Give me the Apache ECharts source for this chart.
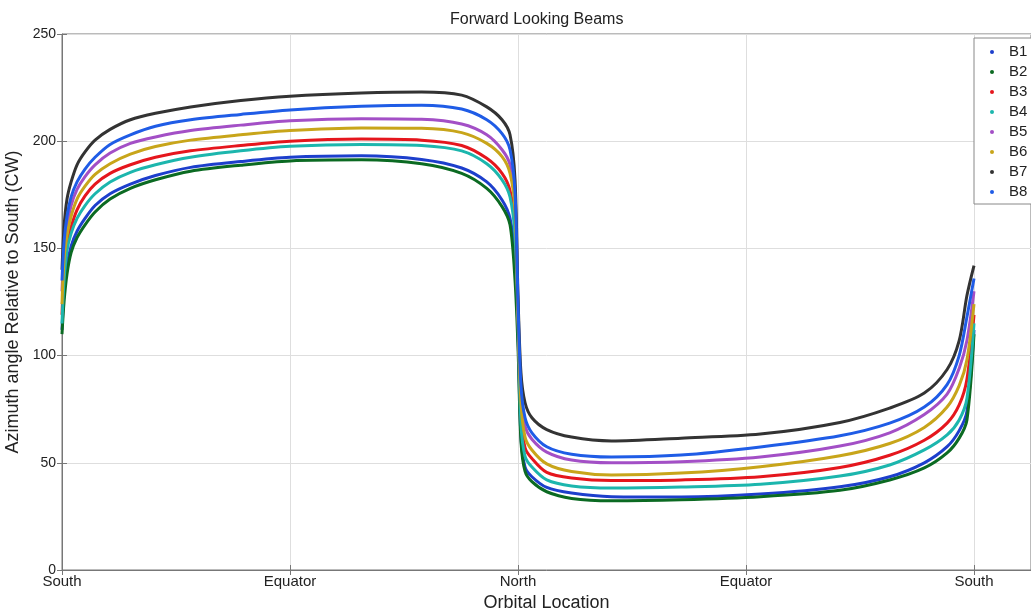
<!DOCTYPE html>
<html>
<head>
<meta charset="utf-8">
<script src="https://cdn.jsdelivr.net/npm/echarts@6/dist/echarts.min.js"></script>
<style>
  html, body { margin: 0; padding: 0; background: #fff; }
  #chart { width: 1031px; height: 614px; }
</style>
</head>
<body>
<div id="chart"></div>
<script>
// orbit position: 0 = South, 1 = Equator, 2 = North, 3 = Equator, 4 = South
const xPos = [0, 0.009, 0.022, 0.040, 0.066, 0.101, 0.145, 0.211, 0.300, 0.410, 0.564, 0.784, 1.0, 1.313, 1.577, 1.753, 1.863, 1.930, 1.965, 1.987,
  2.0, 2.013, 2.031, 2.061, 2.126, 2.235, 2.410, 2.715, 3.063, 3.412, 3.630, 3.782, 3.882, 3.935, 3.969, 4.0];
const xTickLabels = ["South", "Equator", "North", "Equator", "South"];

const b1 = [112, 130, 142, 151, 158, 164, 170, 175.5, 180, 184, 187.8, 190.5, 192.5, 193.2, 191.5, 187.5, 181, 172.6, 164, 145,
  110, 62, 48, 43.5, 38.5, 35.9, 34.2, 34, 35.4, 38.8, 43.5, 50, 57.5, 65, 74, 112];
const b2 = [110, 125, 138, 148, 155, 161, 167, 173, 178, 182, 186, 188.8, 190.8, 191.3, 189.5, 185, 178, 169.5, 161, 135,
  104, 60, 46, 41.2, 36.5, 33.4, 32.3, 32.8, 34.2, 37.2, 42, 47.6, 54.6, 61.5, 70, 110];
const b3 = [119, 140, 152, 160, 168, 174.5, 180, 185, 189, 192.5, 195.5, 198, 200, 201, 200.5, 198, 192, 185, 177, 160,
  118, 72, 57, 52, 45.5, 42.9, 41.7, 42, 43.5, 47.8, 53.5, 60.5, 68.5, 77, 89, 119];
const b4 = [115, 135, 149, 157, 164, 170, 175.5, 181, 185.5, 189, 192.5, 195.5, 197.6, 198.5, 198, 195.5, 189.5, 182, 174, 156,
  116, 68, 53, 48, 42, 39.2, 38.2, 38.7, 40, 43.8, 49, 56, 63, 70, 80, 115];
const b5 = [130, 148, 160, 170, 177.5, 183.5, 189, 194.5, 199, 202, 205, 207.5, 209.5, 210.5, 210.2, 208, 203, 196, 189, 172,
  122, 82, 67, 61, 55, 51.3, 50, 50.5, 52.7, 57.8, 64, 72.5, 82, 94, 107, 130];
const b6 = [124, 145, 156, 165, 173, 179, 184.5, 189.5, 194, 197.5, 200.5, 203, 205, 206.2, 206, 204, 199, 192.8, 185, 168,
  120, 78, 62, 56, 49.5, 45.9, 44.3, 45.2, 48.2, 53.3, 59, 66.5, 76, 86, 98, 124];
const b7 = [140, 160, 173, 181, 189, 195, 200.5, 205.5, 210, 213, 216, 219, 221, 222.5, 223, 221.5, 216, 210, 203, 182,
  128, 92, 78, 71, 65.5, 62, 60.2, 61.5, 63.4, 68.8, 75.5, 82.5, 93.5, 107, 128, 142];
const b8 = [135, 153, 165, 174, 181, 187, 192.5, 198.5, 203, 207, 210, 212.5, 214.6, 216.3, 216.8, 215, 210, 203.5, 196, 176,
  125, 86, 71, 64, 57.5, 54, 52.7, 53.6, 57.4, 62.6, 68.5, 76, 86.5, 100, 118, 136];

const beamNames = ["B1", "B2", "B3", "B4", "B5", "B6", "B7", "B8"];
const beamValues = [b1, b2, b3, b4, b5, b6, b7, b8];
const beamColors = ["#1d3fcc", "#0b6a22", "#e5161d", "#1cb6ad", "#a34fc6", "#c8a51a", "#333333", "#1f5ce6"];

var myChart = echarts.init(document.getElementById("chart"));

let series = beamNames.map((name, k) => {
  return {
    name: name,
    type: "line",
    smooth: 0.3,
    showSymbol: false,
    symbol: "circle",
    color: beamColors[k],
    lineStyle: { color: beamColors[k], width: 3 },
    data: xPos.map((x, i) => [x, beamValues[k][i]])
  };
});

const font = "Liberation Sans, Arial, sans-serif";

let option = {
  animation: false,
  backgroundColor: "#fff",
  title: {
    text: "Forward Looking Beams",
    left: 445,
    top: 7,
    textStyle: { fontSize: 16, fontWeight: "normal", color: "#222", fontFamily: font }
  },
  legend: {
    orient: "vertical",
    left: 974,
    top: 38,
    data: beamNames,
    icon: "circle",
    itemWidth: 4,
    itemHeight: 4,
    itemGap: 4,
    padding: [6, 30, 4, 16],
    backgroundColor: "#fff",
    borderColor: "#888",
    borderWidth: 1,
    textStyle: { fontSize: 15, color: "#222", fontFamily: font, lineHeight: 16, padding: [0, 0, 0, 10] }
  },
  grid: {
    left: 62,
    right: 0,
    top: 34,
    bottom: 44,
    outerBoundsMode: "none",
    containLabel: false,
    show: true,
    borderColor: "#777",
    borderWidth: 1
  },
  xAxis: [
    {
      type: "value",
      min: 0,
      max: 4.25,
      interval: 1,
      name: "Orbital Location",
      nameLocation: "middle",
      nameGap: 21,
      nameTextStyle: { fontSize: 18, color: "#222", fontFamily: font },
      axisLine: { lineStyle: { color: "#777" } },
      axisTick: { inside: true, length: 5, lineStyle: { color: "#777" } },
      axisLabel: {
        margin: 4,
        fontSize: 15,
        color: "#222",
        fontFamily: font,
        formatter: function (v) {
          return Number.isInteger(v) ? xTickLabels[v] : "";
        }
      },
      splitLine: { show: true, lineStyle: { color: "#dedede", width: 1 } }
    },
    {
      type: "value",
      position: "top",
      min: 0,
      max: 4.25,
      interval: 1,
      axisLine: { show: false },
      axisTick: { inside: true, length: 5, lineStyle: { color: "#777" } },
      axisLabel: { show: false },
      splitLine: { show: false }
    }
  ],
  yAxis: [
    {
      type: "value",
      min: 0,
      max: 250,
      interval: 50,
      name: "Azimuth angle Relative to South (CW)",
      nameLocation: "middle",
      nameGap: 29,
      nameTextStyle: { fontSize: 18, color: "#222", fontFamily: font },
      axisLine: { show: true, lineStyle: { color: "#777" } },
      axisTick: { show: true, inside: true, length: 5, lineStyle: { color: "#777" } },
      axisLabel: { margin: 6, fontSize: 14, color: "#222", fontFamily: font },
      splitLine: { show: true, lineStyle: { color: "#dedede", width: 1 } }
    },
    {
      type: "value",
      position: "right",
      min: 0,
      max: 250,
      interval: 50,
      axisLine: { show: false },
      axisTick: { show: true, inside: true, length: 5, lineStyle: { color: "#777" } },
      axisLabel: { show: false },
      splitLine: { show: false }
    }
  ],
  series: series
};

myChart.setOption(option);
</script>
</body>
</html>
